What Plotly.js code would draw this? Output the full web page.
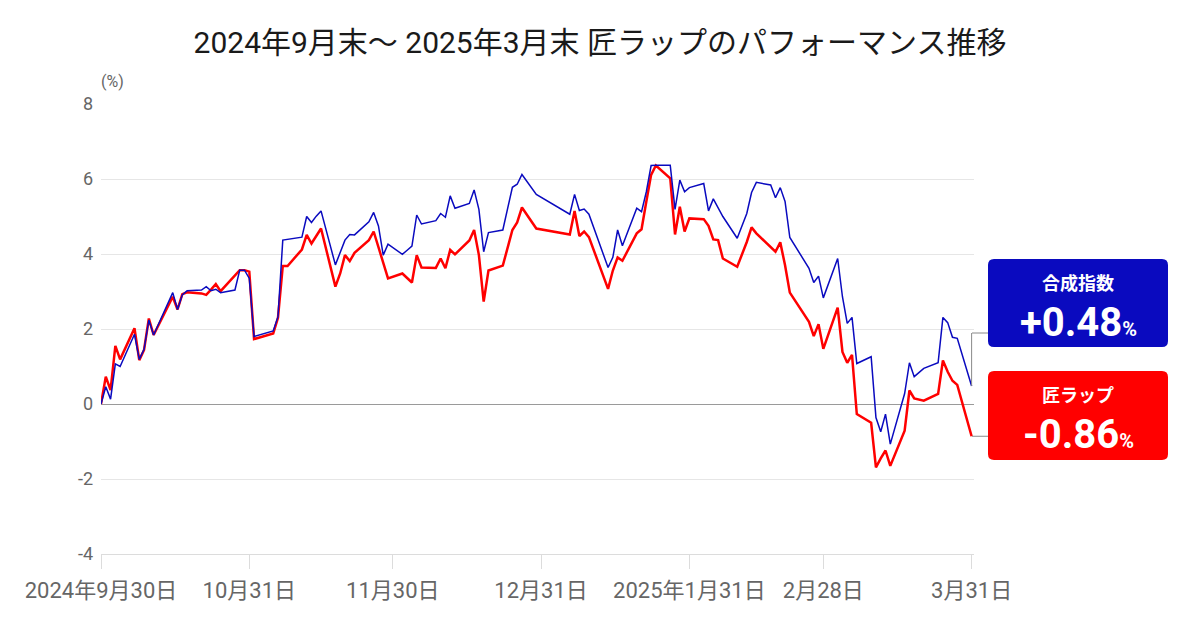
<!DOCTYPE html>
<html>
<head>
<meta charset="utf-8">
<script src="https://cdn.plot.ly/plotly-3.0.1.min.js"></script>
<style>html,body{margin:0;padding:0;background:#fff;}#chart{width:1200px;height:630px;}</style>
</head>
<body>
<div id="chart"></div>
<script>
const dates = [
"2024-09-30","2024-10-01","2024-10-02","2024-10-03","2024-10-04","2024-10-07","2024-10-08","2024-10-09","2024-10-10","2024-10-11",
"2024-10-15","2024-10-16","2024-10-17","2024-10-18","2024-10-21","2024-10-22","2024-10-23","2024-10-24","2024-10-25","2024-10-28",
"2024-10-29","2024-10-30","2024-10-31","2024-11-01","2024-11-05","2024-11-06","2024-11-07","2024-11-08","2024-11-11","2024-11-12",
"2024-11-13","2024-11-14","2024-11-15","2024-11-18","2024-11-19","2024-11-20","2024-11-21","2024-11-22","2024-11-25","2024-11-26",
"2024-11-27","2024-11-28","2024-11-29","2024-12-02","2024-12-03","2024-12-04","2024-12-05","2024-12-06","2024-12-09","2024-12-10",
"2024-12-11","2024-12-12","2024-12-13","2024-12-16","2024-12-17","2024-12-18","2024-12-19","2024-12-20","2024-12-23","2024-12-24",
"2024-12-25","2024-12-26","2024-12-27","2024-12-30","2025-01-06","2025-01-07","2025-01-08","2025-01-09","2025-01-10","2025-01-14",
"2025-01-15","2025-01-16","2025-01-17","2025-01-20","2025-01-21","2025-01-22","2025-01-23","2025-01-24","2025-01-27","2025-01-28",
"2025-01-29","2025-01-30","2025-01-31","2025-02-03","2025-02-04","2025-02-05","2025-02-06","2025-02-07","2025-02-10","2025-02-12",
"2025-02-13","2025-02-14","2025-02-17","2025-02-18","2025-02-19","2025-02-20","2025-02-21","2025-02-25","2025-02-26","2025-02-27",
"2025-02-28","2025-03-03","2025-03-04","2025-03-05","2025-03-06","2025-03-07","2025-03-10","2025-03-11","2025-03-12","2025-03-13",
"2025-03-14","2025-03-17","2025-03-18","2025-03-19","2025-03-21","2025-03-24","2025-03-25","2025-03-26","2025-03-27","2025-03-28",
"2025-03-31"
];
const compositeIndex = [
0,0.46,0.13,1.07,1.00,1.86,1.19,1.46,2.24,1.84,
2.97,2.52,2.91,3.02,3.04,3.13,3.02,3.06,2.97,3.04,
3.57,3.57,3.35,1.80,1.95,2.33,4.37,4.39,4.45,5.00,
4.84,5.01,5.15,3.71,4.02,4.37,4.52,4.51,4.86,5.11,
4.75,3.97,4.26,3.99,4.10,4.21,5.04,4.80,4.89,5.08,
4.98,5.55,5.22,5.35,5.71,5.19,4.06,4.57,4.64,5.20,
5.78,5.86,6.12,5.59,5.06,5.59,5.16,5.20,5.06,3.64,
3.91,4.64,4.22,5.22,5.13,5.66,6.36,6.37,6.37,5.19,
5.97,5.66,5.77,5.88,5.15,5.47,5.25,5.00,4.42,5.08,
5.64,5.91,5.84,5.50,5.77,5.40,4.44,3.62,3.24,3.41,
2.83,3.88,2.86,2.15,2.31,1.08,1.26,-0.36,-0.74,-0.27,
-1.07,0.28,1.10,0.73,0.95,1.10,2.31,2.17,1.78,1.75,
0.48
];
const takumiWrap = [
0,0.73,0.37,1.55,1.19,2.02,1.17,1.44,2.28,1.84,
2.86,2.52,2.93,2.98,2.95,2.91,3.05,3.20,3.01,3.41,
3.57,3.57,3.53,1.73,1.88,2.30,3.68,3.68,4.12,4.51,
4.28,4.48,4.68,3.13,3.48,3.97,3.81,4.03,4.37,4.60,
4.20,3.75,3.35,3.48,3.36,3.24,3.97,3.64,3.63,3.88,
3.62,4.11,3.99,4.36,4.64,3.97,2.73,3.56,3.69,4.15,
4.64,4.84,5.24,4.68,4.52,5.15,4.48,4.60,4.45,3.07,
3.56,3.91,3.82,4.55,4.66,5.40,6.11,6.36,6.02,4.52,
5.26,4.60,4.95,4.93,4.75,4.39,4.37,3.88,3.66,4.32,
4.71,4.55,4.20,4.06,4.31,3.70,2.97,2.19,1.81,2.13,
1.47,2.57,1.39,1.10,1.31,-0.27,-0.50,-1.69,-1.45,-1.24,
-1.65,-0.71,0.36,0.15,0.09,0.27,1.16,0.86,0.62,0.51,
-0.86
];
const tickDates = ["2024-09-30","2024-10-31","2024-11-30","2024-12-31","2025-01-31","2025-02-28","2025-03-31"];
const tickLabels = ["2024年9月30日","10月31日","11月30日","12月31日","2025年1月31日","2月28日","3月31日"];
const yTickVals = [-4, -2, 0, 2, 4, 6, 8];
const yTickLabels = ["-4", "-2", "0", "2", "4", "6", "8"];
const seriesNames = ["合成指数","匠ラップ"];

const FONT = 'Roboto, "Noto Sans CJK JP", sans-serif';
const BLUE = '#0a0abf', RED = '#ff0000';
// pixel -> paper helpers for the plot area
const L = 101, R = 974, T = 104, B = 554;
const px = x => (x - L) / (R - L);
const py = y => (B - y) / (B - T);
function rr(x0, y0, x1, y1, r) {
  const P = (x, y) => px(x).toFixed(5) + ',' + py(y).toFixed(5);
  return 'M' + P(x0 + r, y0) + ' L' + P(x1 - r, y0) + ' Q' + P(x1, y0) + ' ' + P(x1, y0 + r) +
    ' L' + P(x1, y1 - r) + ' Q' + P(x1, y1) + ' ' + P(x1 - r, y1) +
    ' L' + P(x0 + r, y1) + ' Q' + P(x0, y1) + ' ' + P(x0, y1 - r) +
    ' L' + P(x0, y0 + r) + ' Q' + P(x0, y0) + ' ' + P(x0 + r, y0) + ' Z';
}
const fmt = v => (v >= 0 ? '+' : '-') + Math.abs(v).toFixed(2);
const lastB = compositeIndex[compositeIndex.length - 1];
const lastR = takumiWrap[takumiWrap.length - 1];
const lastD = dates[dates.length - 1];

const traces = [
  {x: dates, y: takumiWrap, type: 'scatter', mode: 'lines', name: seriesNames[1],
   line: {color: RED, width: 2.5}},
  {x: dates, y: compositeIndex, type: 'scatter', mode: 'lines', name: seriesNames[0],
   line: {color: BLUE, width: 1.5}}
];

const connY = (B - 333) / (B - T) * 12 - 4; // data y of blue connector
const layout = {
  width: 1200, height: 630, autosize: false,
  margin: {l: L, r: 1200 - R, t: T, b: 630 - B},
  paper_bgcolor: '#fff', plot_bgcolor: '#fff',
  showlegend: false, hovermode: false,
  font: {family: FONT, color: '#666'},
  title: {text: '2024年9月末～ 2025年3月末 匠ラップのパフォーマンス推移', x: 0.5, xanchor: 'center',
          y: 1 - 42 / 630, yanchor: 'middle', font: {family: FONT, size: 30, color: '#1a1a1a'}},
  xaxis: {type: 'date', range: ['2024-09-30', '2025-03-31 12:00'],
          tickvals: tickDates, ticktext: tickLabels, ticks: 'outside', ticklen: 14, tickcolor: '#dcdcdc',
          tickwidth: 1, showline: true, linecolor: '#dcdcdc', linewidth: 1, showgrid: false, zeroline: false,
          ticklabelstandoff: 3,
          tickfont: {family: FONT, size: 22, color: '#666'}},
  yaxis: {range: [-4, 8], tickvals: yTickVals, ticktext: yTickLabels, showgrid: true, gridcolor: '#e6e6e6',
          zeroline: true, zerolinecolor: '#9a9a9a', zerolinewidth: 1, showline: false, ticks: '',
          ticklabelstandoff: 7,
          tickfont: {family: FONT, size: 18, color: '#666'}},
  shapes: [
    {type: 'line', xref: 'x', yref: 'y', x0: lastD, x1: lastD, y0: lastB, y1: connY, line: {color: '#888', width: 1}},
    {type: 'line', xref: 'paper', yref: 'y', x0: px(972), x1: px(988), y0: connY, y1: connY, line: {color: '#888', width: 1}},
    {type: 'line', xref: 'paper', yref: 'y', x0: px(972), x1: px(988), y0: lastR, y1: lastR, line: {color: '#888', width: 1}},
    {type: 'path', xref: 'paper', yref: 'paper', path: rr(988, 259, 1168, 347, 6), fillcolor: BLUE, line: {width: 0}},
    {type: 'path', xref: 'paper', yref: 'paper', path: rr(988, 371, 1168, 460, 6), fillcolor: RED, line: {width: 0}}
  ],
  annotations: [
    {xref: 'paper', yref: 'paper', x: px(112), y: py(82), text: '(%)', showarrow: false,
     xanchor: 'center', yanchor: 'middle', font: {family: FONT, size: 16, color: '#666'}},
    {xref: 'paper', yref: 'paper', x: px(1078), y: py(283), text: '<b>' + seriesNames[0] + '</b>', showarrow: false,
     xanchor: 'center', yanchor: 'middle', font: {family: FONT, size: 18, color: '#fff'}},
    {xref: 'paper', yref: 'paper', x: px(1078), y: py(322), text: '<b>' + fmt(lastB) + '<span style="font-size:20px">%</span></b>', showarrow: false,
     xanchor: 'center', yanchor: 'middle', font: {family: FONT, size: 40, color: '#fff'}},
    {xref: 'paper', yref: 'paper', x: px(1078), y: py(395), text: '<b>' + seriesNames[1] + '</b>', showarrow: false,
     xanchor: 'center', yanchor: 'middle', font: {family: FONT, size: 18, color: '#fff'}},
    {xref: 'paper', yref: 'paper', x: px(1078), y: py(434), text: '<b>' + fmt(lastR) + '<span style="font-size:20px">%</span></b>', showarrow: false,
     xanchor: 'center', yanchor: 'middle', font: {family: FONT, size: 40, color: '#fff'}}
  ]
};
Plotly.newPlot('chart', traces, layout, {displayModeBar: false, staticPlot: true});
</script>
</body>
</html>
